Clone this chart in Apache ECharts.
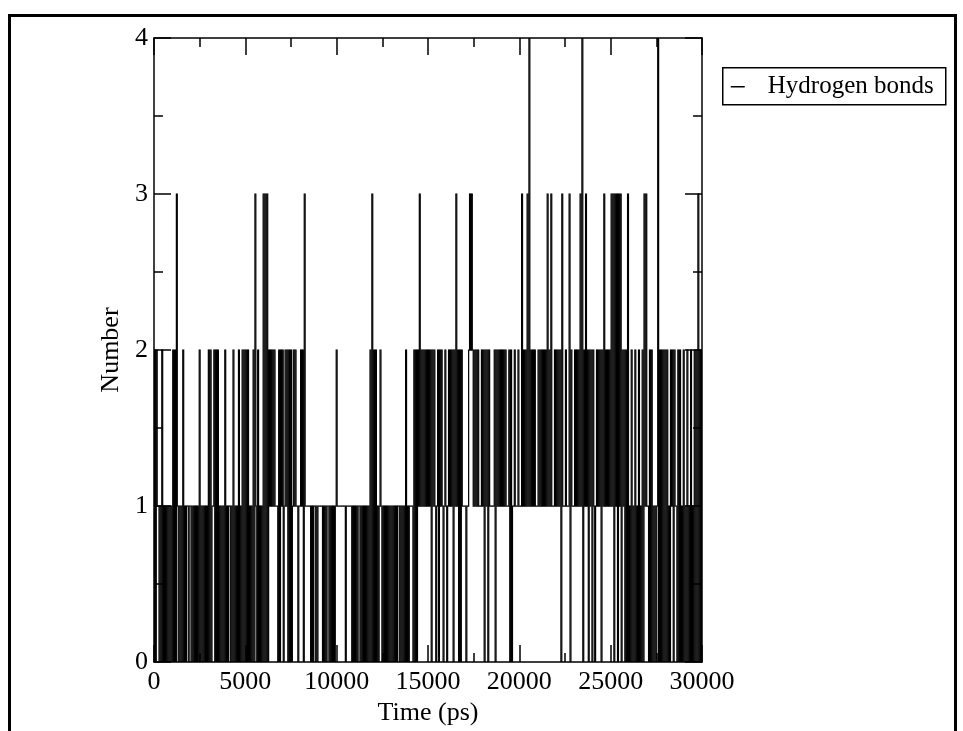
<!DOCTYPE html>
<html>
<head>
<meta charset="utf-8">
<title>Hydrogen bonds</title>
<script src="https://cdn.jsdelivr.net/npm/echarts@6/dist/echarts.min.js"></script>
<style>
  html, body { margin: 0; padding: 0; background: #fff; }
  #chart { width: 963px; height: 731px; }
</style>
</head>
<body>
<div id="chart"></div>
<script>
// number of hydrogen bonds, one frame every 50 ps
const TIME_STEP = 50;

const hb_0_5000 = [
  0,2,0,2,1,1,0,1,0,2,
  0,1,0,1,0,1,0,1,0,1,
  0,2,0,2,0,3,1,0,1,0,
  1,0,2,0,1,0,1,1,0,1,
  1,0,1,0,1,0,1,0,1,0,
  2,0,1,0,1,0,1,0,1,0,
  2,0,2,0,1,1,2,0,2,0,
  2,0,1,0,1,0,1,0,2,0,
  1,0,1,1,0,1,0,2,0,1,
  0,1,0,2,0,1,0,2,0,2
];
const hb_5000_10000 = [
  0,2,0,2,0,1,0,1,0,2,
  0,3,1,0,2,0,1,0,1,0,
  3,0,3,0,3,0,2,1,2,1,
  2,1,2,1,1,1,0,2,0,2,
  1,2,0,1,2,1,2,0,2,0,
  2,0,1,2,1,2,1,1,0,1,
  1,2,1,2,0,3,1,1,1,1,
  1,1,0,1,0,1,1,0,1,0,
  1,1,1,1,1,0,1,0,1,0,
  1,1,0,1,0,1,0,1,0,1
];
const hb_10000_15000 = [
  2,1,1,1,1,1,1,1,1,1,
  0,1,1,1,1,1,1,0,1,0,
  1,0,1,0,1,1,0,1,0,1,
  0,1,0,1,0,1,0,2,0,3,
  0,2,0,2,0,1,0,1,2,1,
  0,1,0,1,0,1,0,1,0,1,
  0,1,0,1,0,1,0,1,1,0,
  1,0,1,0,1,0,2,0,1,0,
  1,1,1,1,0,2,0,2,0,2,
  1,3,1,2,1,2,1,2,1,2
];
const hb_15000_20000 = [
  1,2,1,2,0,2,1,2,1,0,
  1,2,0,2,1,2,1,0,1,2,
  1,0,1,2,1,2,1,2,0,2,
  1,3,1,2,0,2,0,2,1,1,
  1,1,0,1,1,2,3,2,3,2,
  1,2,1,2,1,2,1,1,1,2,
  1,2,0,2,1,2,0,2,1,1,
  1,1,1,2,0,2,1,2,1,2,
  1,2,1,2,1,2,1,1,1,2,
  0,2,0,1,1,2,1,1,1,2
];
const hb_20000_25000 = [
  1,1,1,3,1,2,1,2,1,3,
  1,4,1,2,1,2,1,2,1,1,
  1,2,1,2,1,2,1,2,1,2,
  1,3,1,2,1,3,1,1,1,2,
  1,2,1,2,1,2,0,3,1,1,
  1,2,1,1,1,3,0,2,1,1,
  1,2,1,2,1,2,1,3,1,4,
  0,2,1,3,1,2,0,2,1,2,
  0,2,1,0,1,2,1,2,1,2,
  0,2,1,3,1,2,1,2,1,2
];
const hb_25000_30000 = [
  1,3,1,3,0,3,1,3,0,3,
  1,3,0,2,1,2,0,2,0,3,
  0,1,0,2,0,1,0,2,0,1,
  0,2,0,1,0,2,0,3,1,3,
  1,1,0,2,0,2,0,1,0,1,
  0,1,4,0,2,0,2,0,2,0,
  2,0,2,0,1,0,2,1,2,0,
  2,1,1,0,2,0,2,0,1,0,
  2,0,1,0,2,0,1,0,2,0,
  1,0,2,0,2,0,3,0,2,0,
  2
];

const timeTicks = [0, 5000, 10000, 15000, 20000, 25000, 30000];
const numberTicks = [0, 1, 2, 3, 4];

const hbonds = [].concat(hb_0_5000, hb_5000_10000, hb_10000_15000,
  hb_15000_20000, hb_20000_25000, hb_25000_30000);

// each frame-to-frame step: [t0, n0, t1, n1]
const steps = [];
for (let i = 0; i < hbonds.length - 1; i++) {
  steps.push([i * TIME_STEP, hbonds[i], (i + 1) * TIME_STEP, hbonds[i + 1]]);
}

const FONT = 'Liberation Serif, Times New Roman, serif';
const PEN = 1.2; // stroke thickness of the trace, px

var chart = echarts.init(document.getElementById('chart'), null, { renderer: 'canvas' });

// shared look of the four frame axes (xmgrace style, ticks pointing in)
const frameAxis = (extra) => Object.assign({
  z: 5,
  axisLine: { show: true, onZero: false, lineStyle: { color: '#000', width: 1.5 } },
  axisTick: { show: true, inside: true, length: 17, lineStyle: { color: '#000', width: 1.5 } },
  minorTick: { show: true, splitNumber: 2, length: 9, lineStyle: { color: '#000', width: 1.5 } },
  splitLine: { show: false },
  minorSplitLine: { show: false },
}, extra);

// the trace is so dense (under a pixel per frame) that each step is drawn
// as the small box it sweeps, which keeps the busy stretches solid black
const renderStep = (params, api) => {
  const p0 = api.coord([api.value(0), api.value(1)]);
  const p1 = api.coord([api.value(2), api.value(3)]);
  const x = Math.min(p0[0], p1[0]) - 0.15;
  const w = Math.abs(p1[0] - p0[0]) + 0.3;
  const y = Math.min(p0[1], p1[1]) - PEN / 2;
  const h = Math.abs(p1[1] - p0[1]) + PEN;
  return {
    type: 'rect',
    shape: { x: x, y: y, width: w, height: h },
    style: { fill: '#000' },
  };
};

const option = {
  animation: false,
  backgroundColor: '#fff',
  grid: { left: 154, top: 38, width: 548, height: 629, containLabel: false },
  xAxis: [
    frameAxis({
      type: 'value',
      position: 'bottom',
      min: timeTicks[0],
      max: timeTicks[timeTicks.length - 1],
      interval: timeTicks[1] - timeTicks[0],
      name: 'Time (ps)',
      nameLocation: 'middle',
      nameGap: 33,
      nameTextStyle: { color: '#000', fontFamily: FONT, fontSize: 26 },
      axisLabel: {
        color: '#000', fontFamily: FONT, fontSize: 26, margin: 7,
        formatter: (v) => String(v),
      },
    }),
    frameAxis({
      type: 'value',
      position: 'top',
      min: timeTicks[0],
      max: timeTicks[timeTicks.length - 1],
      interval: timeTicks[1] - timeTicks[0],
      axisLabel: { show: false },
    }),
  ],
  yAxis: [
    frameAxis({
      type: 'value',
      position: 'left',
      min: numberTicks[0],
      max: numberTicks[numberTicks.length - 1],
      interval: 1,
      name: 'Number',
      nameLocation: 'middle',
      nameGap: 27,
      nameTextStyle: { color: '#000', fontFamily: FONT, fontSize: 26 },
      axisLabel: { color: '#000', fontFamily: FONT, fontSize: 26, margin: 6 },
    }),
    frameAxis({
      type: 'value',
      position: 'right',
      min: numberTicks[0],
      max: numberTicks[numberTicks.length - 1],
      interval: 1,
      axisLabel: { show: false },
    }),
  ],
  graphic: [
    // page frame
    {
      type: 'rect',
      z: 0,
      shape: { x: 9.5, y: 15.5, width: 946, height: 800 },
      style: { fill: null, stroke: '#000', lineWidth: 3 },
    },
    // legend box
    {
      type: 'group',
      left: 722,
      top: 67,
      z: 10,
      children: [
        {
          type: 'rect',
          shape: { x: 0, y: 0, width: 223, height: 37 },
          style: { fill: '#fff', stroke: '#000', lineWidth: 1.5 },
        },
        {
          type: 'line',
          shape: { x1: 8, y1: 19, x2: 22, y2: 19 },
          style: { stroke: '#000', lineWidth: 1.5 },
        },
        {
          type: 'text',
          x: 45,
          y: 19,
          style: {
            text: 'Hydrogen bonds',
            fill: '#000',
            font: '25px ' + FONT,
            verticalAlign: 'middle',
          },
        },
      ],
    },
  ],
  series: [
    {
      name: 'Hydrogen bonds',
      type: 'custom',
      coordinateSystem: 'cartesian2d',
      silent: true,
      clip: true,
      data: steps,
      encode: { x: [0, 2], y: [1, 3] },
      renderItem: renderStep,
      z: 2,
    },
  ],
};
chart.setOption(option);
</script>
</body>
</html>
